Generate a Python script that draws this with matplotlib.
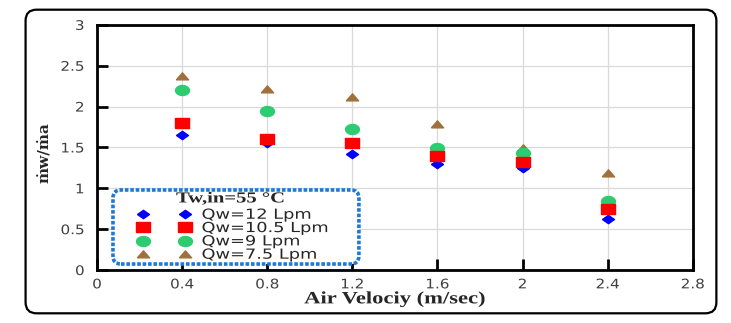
import numpy as np
import matplotlib.pyplot as plt
from matplotlib.patches import FancyBboxPatch
from matplotlib.patheffects import AbstractPathEffect
from matplotlib.transforms import Affine2D

# Data
velocity = [0.4, 0.8, 1.2, 1.6, 2.0, 2.4]
q12 = [1.65, 1.55, 1.42, 1.30, 1.25, 0.62]
q105 = [1.80, 1.60, 1.55, 1.39, 1.32, 0.75]
q9 = [2.20, 1.95, 1.73, 1.49, 1.43, 0.85]
q75 = [2.37, 2.22, 2.12, 1.79, 1.49, 1.19]

labels = ['Qw=12 Lpm', 'Qw=10.5 Lpm', 'Qw=9 Lpm', 'Qw=7.5 Lpm']


# the source picture is stretched sideways, so widen the text a bit
class Stretch(AbstractPathEffect):
    def __init__(self, sx, anchor='left'):
        super().__init__()
        self.sx = sx
        self.anchor = anchor

    def draw_path(self, renderer, gc, tpath, affine, rgbFace=None):
        ext = tpath.get_extents()
        if self.anchor == 'center':
            cx = (ext.x0 + ext.x1) / 2
        elif self.anchor == 'right':
            cx = ext.x1
        else:
            cx = 0
        st = Affine2D().translate(-cx, 0).scale(self.sx, 1).translate(cx, 0)
        renderer.draw_path(gc, tpath, st + affine, rgbFace)


# flattened marker shapes
diamond = [(-1, 0), (0, 0.7), (1, 0), (0, -0.7), (-1, 0)]
square = [(-1, -0.75), (1, -0.75), (1, 0.75), (-1, 0.75), (-1, -0.75)]
t = np.linspace(0, 2 * np.pi, 40)
ellipse = list(zip(np.cos(t), 0.72 * np.sin(t)))
triangle = [(-1, -0.55), (1, -0.55), (0, 0.6), (-1, -0.55)]

fig = plt.figure(figsize=(7.31, 3.23), dpi=100)
ax = fig.add_axes([0.1327, 0.164, 0.815, 0.759])

ax.plot(velocity, q12, linestyle='none', marker=diamond, markersize=8.6,
        color='#0000ff', label=labels[0], zorder=2)
ax.plot(velocity, q105, linestyle='none', marker=square, markersize=9.4,
        color='#ff0000', label=labels[1], zorder=5)
ax.plot(velocity, q9, linestyle='none', marker=ellipse, markersize=10,
        color='#2ecc71', label=labels[2], zorder=4)
ax.plot(velocity, q75, linestyle='none', marker=triangle, markersize=8.8,
        color='#a0703c', label=labels[3], zorder=3)

ax.set_xlim(0, 2.8)
ax.set_ylim(0, 3)
ax.set_xticks([0, 0.4, 0.8, 1.2, 1.6, 2.0, 2.4, 2.8])
ax.set_xticklabels(['0', '0.4', '0.8', '1.2', '1.6', '2', '2.4', '2.8'])
ax.set_yticks([0, 0.5, 1, 1.5, 2, 2.5, 3])
ax.set_yticklabels(['0', '0.5', '1', '1.5', '2', '2.5', '3'])
ax.grid(True, color='#d9d9d9', linewidth=0.9)
ax.set_axisbelow(True)
for s in ax.spines.values():
    s.set_linewidth(2)
    s.set_color('black')
ax.tick_params(direction='in', length=8, width=2, labelsize=9.5,
               labelcolor='#404040', pad=6)
ax.tick_params(axis='y', pad=9)
for lab in ax.get_xticklabels():
    lab.set_path_effects([Stretch(1.15, 'center')])
for lab in ax.get_yticklabels():
    lab.set_path_effects([Stretch(1.15, 'right')])

ax.set_xlabel('Air Velociy (m/sec)', family='Liberation Serif', weight='bold',
              fontsize=12.5, color='#262626', labelpad=0,
              path_effects=[Stretch(1.3, 'center')])
ax.set_ylabel('ṁw/ṁa', family='DejaVu Serif', weight='bold', fontsize=11,
              color='#262626')
ax.yaxis.set_label_coords(-0.077, 0.48)

# dotted rounded frame with white fill, drawn separately
box = FancyBboxPatch((0.0268, 0.0245), 0.4128, 0.302,
                     boxstyle='round,pad=0,rounding_size=0.0134',
                     mutation_aspect=596 / 245, transform=ax.transAxes,
                     facecolor='white', edgecolor='#1f78d1',
                     linestyle=(0, (1, 0.5)), linewidth=2.6, zorder=6)
ax.add_patch(box)

leg = ax.legend(loc='upper left', bbox_to_anchor=(0.0705, 0.254), numpoints=2,
                fontsize=10, frameon=False, handlelength=3.6,
                handletextpad=0.9, labelspacing=-0.05, borderpad=0,
                borderaxespad=0)
leg.set_zorder(7)
for txt in leg.get_texts():
    txt.set_color('#262626')
    txt.set_path_effects([Stretch(1.28)])

ax.text(0.1326, 0.29, 'Tw,in=55 °C', transform=ax.transAxes,
        family='Liberation Serif', weight='bold', fontsize=11,
        color='#262626', ha='left', va='center', zorder=8,
        path_effects=[Stretch(1.35)])

# outer rounded border
border = FancyBboxPatch((0.035, 0.03), 0.945, 0.94,
                        boxstyle='round,pad=0,rounding_size=0.015',
                        mutation_aspect=731 / 323,
                        transform=fig.transFigure, fill=False,
                        edgecolor='black', linewidth=1.6)
fig.patches.append(border)

fig.savefig('out.png', dpi=100)
